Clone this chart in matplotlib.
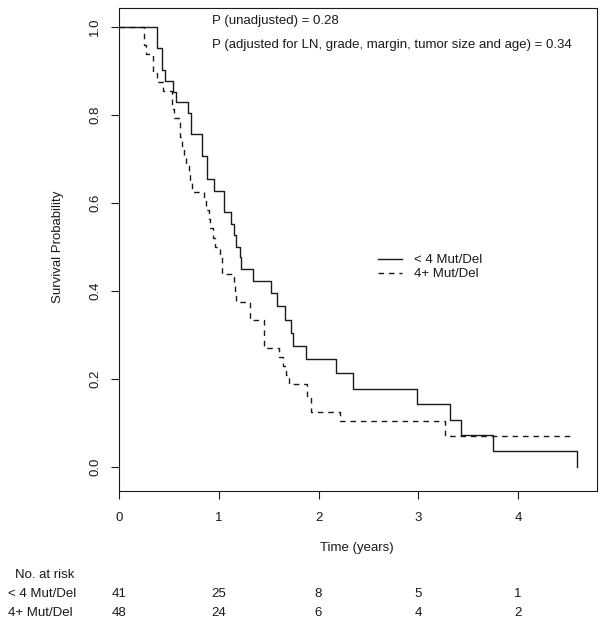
import numpy as np
import matplotlib
matplotlib.use("Agg")
from matplotlib import pyplot as plt

plt.rcParams['font.family'] = ['Liberation Sans', 'DejaVu Sans']

# ---- data ----
t_lt4 = [0, 0.38, 0.43, 0.46, 0.54, 0.57, 0.69, 0.72, 0.83, 0.88, 0.95, 1.05, 1.12, 1.15,
         1.17, 1.21, 1.22, 1.34, 1.52, 1.58, 1.66, 1.72, 1.74, 1.87, 2.17, 2.34, 2.99,
         3.32, 3.43, 3.75, 4.59]
s_lt4 = [1.0, 0.951, 0.902, 0.878, 0.853, 0.829, 0.805, 0.756, 0.707, 0.655, 0.628, 0.579,
         0.553, 0.527, 0.501, 0.477, 0.451, 0.423, 0.395, 0.367, 0.335, 0.305, 0.276, 0.245,
         0.213, 0.178, 0.143, 0.107, 0.072, 0.036, 0.0]

t_4p = [0, 0.25, 0.27, 0.34, 0.38, 0.44, 0.53, 0.55, 0.61, 0.63, 0.65, 0.67, 0.70, 0.71,
        0.73, 0.85, 0.87, 0.90, 0.91, 0.94, 0.96, 1.01, 1.03, 1.15, 1.16, 1.17, 1.31, 1.45,
        1.60, 1.64, 1.67, 1.70, 1.88, 1.92, 2.21, 3.27, 4.52]
s_4p = [1.0, 0.958, 0.9375, 0.896, 0.875, 0.854, 0.8125, 0.792, 0.75, 0.729, 0.708, 0.6875,
        0.667, 0.646, 0.625, 0.604, 0.583, 0.5625, 0.542, 0.521, 0.5, 0.479, 0.4375, 0.417,
        0.396, 0.375, 0.333, 0.271, 0.25, 0.229, 0.208, 0.188, 0.157, 0.126, 0.1045, 0.0695,
        0.0695]

groups = ['< 4 Mut/Del', '4+ Mut/Del']
risk_times = [0, 1, 2, 3, 4]
risk_lt4 = [41, 25, 8, 5, 1]
risk_4p = [48, 24, 6, 4, 2]

p_unadj = 0.28
p_adj = 0.34

# ---- layout (pixels of a 604x625 picture) ----
W, H = 604, 625
def px(x, y):
    return x / W, 1 - y / H

fig = plt.figure(figsize=(W / 100, H / 100), dpi=100)
ax = fig.add_axes([119 / W, 1 - 491 / H, (597 - 119) / W, (491 - 8) / H])

col = '#1a1a1a'
ax.step(t_lt4, s_lt4, where='post', color=col, lw=1.0, label=groups[0])
ax.step(t_4p, s_4p, where='post', color=col, lw=1.0, ls=(0, (4, 3.5)), label=groups[1])

ax.set_xlim(0, 4.79)
ax.set_ylim(-0.0545, 1.043)
ax.set_xticks(risk_times)
ax.set_yticks([0, 0.2, 0.4, 0.6, 0.8, 1.0])
ax.set_yticklabels(['0.0', '0.2', '0.4', '0.6', '0.8', '1.0'], rotation=90, va='center')
ax.tick_params(axis='both', length=5.8, width=0.8, color=col, labelsize=9.5, labelcolor=col)
ax.tick_params(axis='y', pad=7)
ax.tick_params(axis='x', pad=9.5)
for s in ax.spines.values():
    s.set_linewidth(0.8)
    s.set_color(col)

fig.text(*px(58, 247), 'Survival Probability', rotation=90, ha='center', va='center',
         fontsize=9.5, color=col)
fig.text(*px(357, 548), 'Time (years)', ha='center', va='center', fontsize=9.5, color=col)

fig.text(*px(212, 21), 'P (unadjusted) = %.2f' % p_unadj, ha='left', va='center',
         fontsize=9.5, color=col)
fig.text(*px(212, 45), 'P (adjusted for LN, grade, margin, tumor size and age) = %.2f' % p_adj,
         ha='left', va='center', fontsize=9.5, color=col)

ax.legend(loc='upper left', bbox_to_anchor=px(378, 254), bbox_transform=fig.transFigure,
          frameon=False, fontsize=9.5, handlelength=1.85, handletextpad=0.85,
          labelspacing=0.15, borderpad=0, borderaxespad=0, labelcolor=col)

# number at risk table
fig.text(*px(15, 575), 'No. at risk', ha='left', va='center', fontsize=9.5, color=col)
for row, (name, vals) in enumerate(zip(groups, [risk_lt4, risk_4p])):
    ypx = 594 + 19 * row
    fig.text(*px(8, ypx), name, ha='left', va='center', fontsize=9.5, color=col)
    for tt, v in zip(risk_times, vals):
        xf = (119 + tt * 99.75) / W
        fig.text(xf, px(0, ypx)[1], str(v), ha='center', va='center', fontsize=9.5, color=col)

fig.savefig('out.png', dpi=100)
